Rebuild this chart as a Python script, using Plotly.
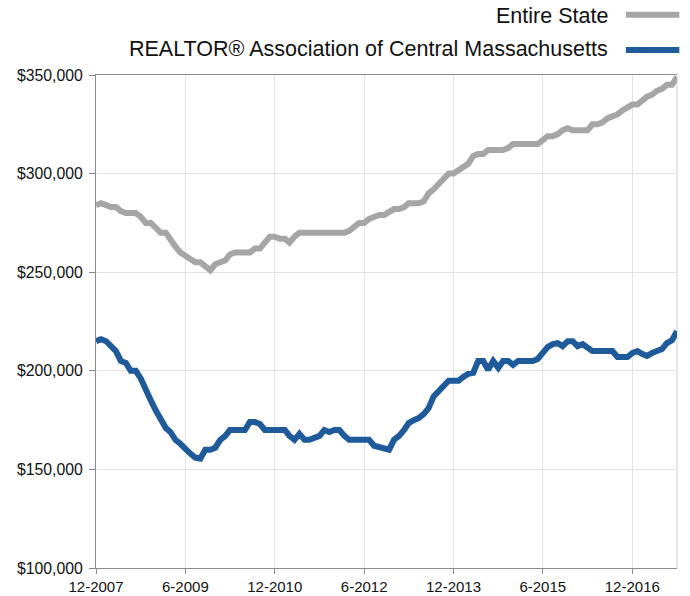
import plotly.graph_objects as go
import pandas as pd

start_month = "2007-12-01"

entire_state = [
    284000, 285000, 284000, 283000, 283000, 281000, 280000, 280000, 280000, 278000,
    275000, 275000, 273000, 270000, 270000, 266000, 263000, 260000, 258000, 257000,
    255000, 255000, 253000, 251000, 254000, 255000, 256000, 259000, 260000, 260000,
    260000, 260000, 262000, 262000, 265000, 268000, 268000, 267000, 267000, 265000,
    268000, 270000, 270000, 270000, 270000, 270000, 270000, 270000, 270000, 270000,
    270000, 271000, 273000, 275000, 275000, 277000, 278000, 279000, 279000, 281000,
    282000, 282000, 283000, 285000, 285000, 285000, 286000, 290000, 292000, 295000,
    298000, 300000, 300000, 302000, 304000, 305000, 309000, 310000, 310000, 312000,
    312000, 312000, 312000, 313000, 315000, 315000, 315000, 315000, 315000, 315000,
    317000, 319000, 319000, 320000, 322000, 323000, 322000, 322000, 321500, 322000,
    325000, 325000, 326000, 328000, 329000, 330000, 332000, 334000, 335000, 335000,
    337000, 339000, 340000, 342000, 343000, 345000, 345000, 349000,
]

central_mass = [
    215000, 216000, 215000, 213000, 210000, 205000, 204000, 200000, 200000, 196000,
    190000, 185000, 180000, 175000, 171000, 169000, 165000, 163000, 160000, 158000,
    156000, 155500, 160000, 160000, 161000, 165000, 167000, 170000, 170000, 170000,
    170000, 174000, 174000, 173000, 170000, 170000, 170000, 169500, 170000, 167000,
    165000, 168000, 165000, 165000, 166000, 167000, 170000, 169000, 170000, 170000,
    167000, 165000, 165000, 165000, 165000, 165000, 162000, 161500, 161000, 160000,
    165000, 167000, 170000, 173500, 175000, 176000, 178000, 181000, 187000, 190000,
    193000, 195000, 195000, 195000, 197000, 198500, 199000, 205000, 205000, 200500,
    205000, 201500, 205000, 205000, 203000, 205000, 205000, 205000, 205000, 206000,
    209000, 212000, 213500, 214000, 212500, 215000, 215000, 212500, 213500, 212000,
    210000, 210000, 210000, 210000, 210000, 207000, 207000, 207000, 209000, 210000,
    208500, 207500, 209000, 210000, 211000, 214000, 215500, 220000,
]

series_names = ["Entire State", "REALTOR® Association of Central Massachusetts"]
series_colors = ["#a6a6a6", "#1f5b9b"]

months = pd.date_range(start_month, periods=len(entire_state), freq="MS")

fig = go.Figure()
for name, vals, col in zip(series_names, [entire_state, central_mass], series_colors):
    fig.add_trace(go.Scatter(x=months, y=vals, mode="lines", name=name,
                             line=dict(color=col, width=6), showlegend=False))

font_family = "Liberation Sans, Arial, sans-serif"

# legend drawn as right-aligned text with swatch on the right
legend_text_y = [1.1195, 1.0527]
legend_swatch_y = [1.1223, 1.0507]
for name, col, ty, sy in zip(series_names, series_colors, legend_text_y, legend_swatch_y):
    fig.add_annotation(xref="paper", yref="paper", x=0.884, y=ty, text=name,
                       showarrow=False, xanchor="right", yanchor="middle",
                       font=dict(size=21.5, color="#111", family=font_family))
    fig.add_shape(type="line", xref="paper", yref="paper", x0=0.912, x1=1.004,
                  y0=sy, y1=sy, line=dict(color=col, width=6))

fig.add_shape(type="line", xref="paper", yref="paper", x0=1, x1=1, y0=0, y1=1,
              line=dict(color="#d0d0d0", width=1), layer="below")

fig.update_layout(
    width=690, height=596,
    margin=dict(l=96, r=13, t=75, b=28, autoexpand=False),
    paper_bgcolor="white", plot_bgcolor="white",
    font=dict(family=font_family, color="#111", size=15),
    xaxis=dict(
        range=[months[0], months[-1]], automargin=False,
        tick0=start_month, dtick="M18", tickformat="%-m-%Y",
        showgrid=True, gridcolor="#e3e3e3", gridwidth=1,
        showline=True, linecolor="#8c8c8c", linewidth=1, mirror=True,
        ticks="outside", ticklen=5, tickcolor="#8c8c8c",
        tickfont=dict(size=15), zeroline=False,
    ),
    yaxis=dict(
        range=[100000, 350000], dtick=50000, tickprefix="$", tickformat=",",
        automargin=False, ticklabelstandoff=3,
        showgrid=True, gridcolor="#e3e3e3", gridwidth=1,
        showline=True, linecolor="#8c8c8c", linewidth=1,
        ticks="outside", ticklen=6, tickcolor="#8c8c8c",
        tickfont=dict(size=15.8), zeroline=False,
    ),
)

fig.write_html(
    "out.html",
    config={"displayModeBar": False},
    post_script="document.body.style.margin='0';document.body.style.overflow='hidden';",
)
